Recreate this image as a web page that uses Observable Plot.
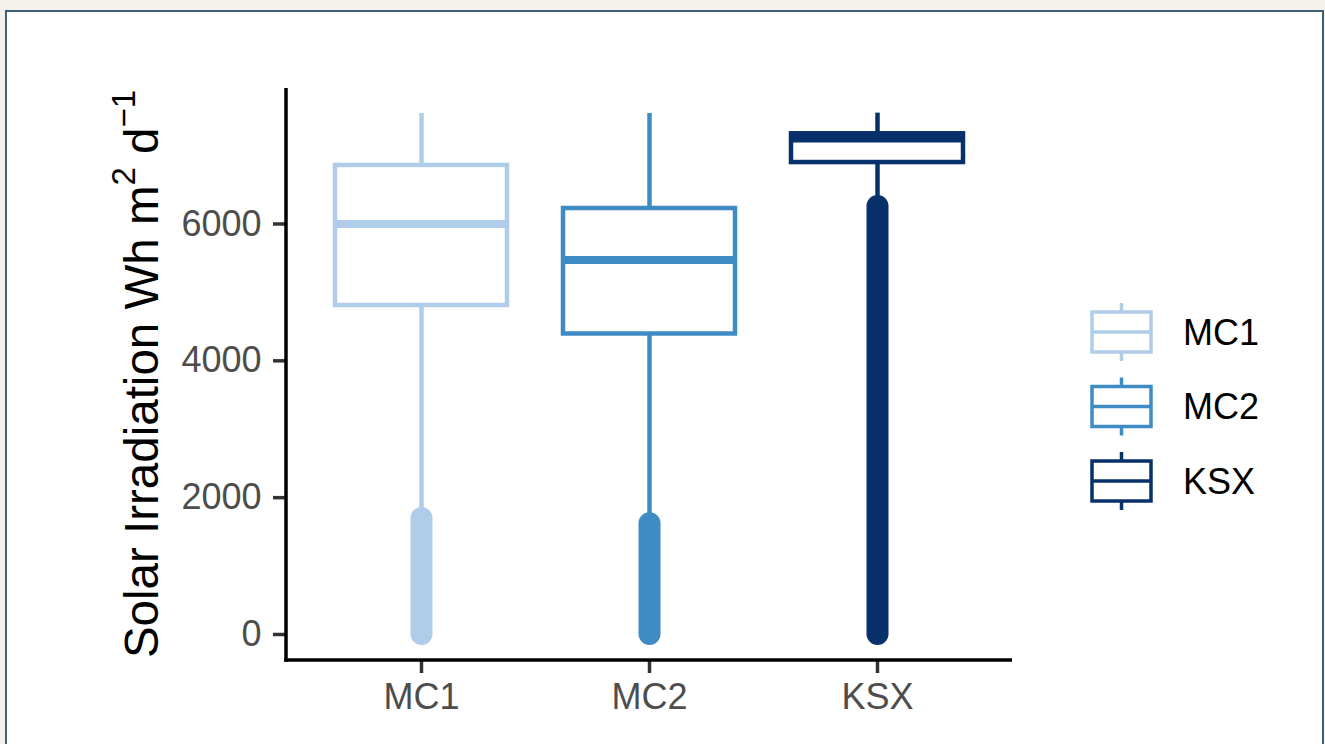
<!DOCTYPE html>
<html><head><meta charset="utf-8">
<script src="https://cdn.jsdelivr.net/npm/d3@7"></script>
<script src="https://cdn.jsdelivr.net/npm/@observablehq/plot@0.6"></script>
<style>
html,body{margin:0;padding:0;background:#f2f1ec;width:1325px;height:744px;overflow:hidden;}
#frame{position:absolute;left:5px;top:10px;width:1319px;height:800px;box-sizing:border-box;border:2.5px solid #3e6074;background:#fff;}
#chart{position:absolute;left:0;top:0;}
#legend{position:absolute;left:0;top:0;pointer-events:none;}
</style></head><body>
<div id="frame"></div>
<div id="chart"></div>
<svg id="legend" width="1325" height="744"></svg>
<script>
// ---- data ----
const categories = ["MC1", "MC2", "KSX"];
const colors = ["#afcde8", "#3f8cc5", "#08306b"];
const whiskerLow = [1750, 1700, 6300];
const q1 = [4808, 4392, 6898];
const median = [6000, 5474, 7250];
const q3 = [6855, 6226, 7318];
const whiskerHigh = [7615, 7615, 7620];
const outlierMin = [0, 0, 0];
const outlierMax = [1695, 1620, 6255];
const yTicks = [0, 2000, 4000, 6000];
const yDomain = [-380, 7980];

const stats = categories.map((c, i) => ({
  cat: c, lo: whiskerLow[i], q1: q1[i], med: median[i], q3: q3[i], hi: whiskerHigh[i],
  omin: outlierMin[i], omax: outlierMax[i]
}));

const W = 1325, H = 744;
const mL = 286, mR = 313, mT = 88, mB = 84;
const font = "'Liberation Sans', Arial, Helvetica, sans-serif";

const plot = Plot.plot({
  width: W, height: H,
  marginLeft: mL, marginRight: mR, marginTop: mT, marginBottom: mB,
  style: {background: "none", fontFamily: font, overflow: "visible"},
  x: {domain: categories, paddingInner: 0.2456, paddingOuter: 0.2149, align: 0.5, label: null},
  y: {domain: yDomain, label: null},
  color: {domain: categories, range: colors},
  marks: [
    Plot.ruleX(stats, {x: "cat", y1: "omin", y2: "omax", stroke: "cat", strokeWidth: 22, strokeLinecap: "round"}),
    Plot.ruleX(stats, {x: "cat", y1: "lo", y2: "q1", stroke: "cat", strokeWidth: 4.5}),
    Plot.ruleX(stats, {x: "cat", y1: "q3", y2: "hi", stroke: "cat", strokeWidth: 4.5}),
    Plot.barY(stats, {x: "cat", y1: "q1", y2: "q3", fill: "white", stroke: "cat", strokeWidth: 4.5}),
    Plot.tickY(stats, {x: "cat", y: "med", stroke: "cat", strokeWidth: 8}),
    Plot.axisY({ticks: yTicks, tickSize: 13, tickPadding: 12, fontSize: 36, label: null, tickFormat: d => String(d)}),
    Plot.axisX({tickSize: 13, tickPadding: 10, fontSize: 36, label: null})
  ]
});
document.getElementById("chart").appendChild(plot);

const svg = d3.select(plot);
svg.selectAll('g[aria-label="y-axis tick"], g[aria-label="x-axis tick"]')
  .attr("stroke", "#333333").style("stroke", "#333333").style("stroke-width", "3.5px");
svg.selectAll('g[aria-label="y-axis tick label"], g[aria-label="x-axis tick label"]')
  .attr("fill", "#4d4d4d").style("fill", "#4d4d4d");

// axis lines
const sx = plot.scale("x"), sy = plot.scale("y");
const xr = sx.range, yr = sy.range;
const x0 = Math.min(...xr), x1 = Math.max(...xr);
const yTop = Math.min(...yr), yBot = Math.max(...yr);
svg.append("line").attr("x1", x0).attr("x2", x0).attr("y1", yTop).attr("y2", yBot + 1.75)
  .attr("stroke", "#000").attr("stroke-width", 3.5);
svg.append("line").attr("x1", x0 - 1.75).attr("x2", x1).attr("y1", yBot).attr("y2", yBot)
  .attr("stroke", "#000").attr("stroke-width", 3.5);

// y title with superscripts
const t = svg.append("text")
  .attr("transform", `translate(158,${(yTop + yBot) / 2}) rotate(-90)`)
  .attr("text-anchor", "middle").attr("fill", "#000")
  .style("font-family", font).style("font-size", "47.5px");
t.append("tspan").text("Solar Irradiation Wh m");
t.append("tspan").attr("dy", -23).style("font-size", "33px").text("2");
t.append("tspan").attr("dy", 23).text(" d");
t.append("tspan").attr("dy", -23).style("font-size", "33px").text("\u22121");

// legend
const lg = d3.select("#legend");
const legX = 1092, legY0 = 332, legStep = 74.5, keyW = 59, keyH = 40, wh = 9;
categories.forEach((c, i) => {
  const cy = legY0 + i * legStep, cx = legX + keyW / 2;
  const g = lg.append("g").attr("stroke", colors[i]).attr("stroke-width", 3.5).attr("fill", "white");
  g.append("line").attr("x1", cx).attr("x2", cx).attr("y1", cy - keyH / 2 - wh).attr("y2", cy + keyH / 2 + wh);
  g.append("rect").attr("x", legX).attr("y", cy - keyH / 2).attr("width", keyW).attr("height", keyH);
  g.append("line").attr("x1", legX).attr("x2", legX + keyW).attr("y1", cy).attr("y2", cy);
  lg.append("text").attr("x", 1183).attr("y", cy).attr("dy", "0.36em")
    .style("font-family", font).style("font-size", "36px").attr("fill", "#000").text(c);
});
</script>
</body></html>
